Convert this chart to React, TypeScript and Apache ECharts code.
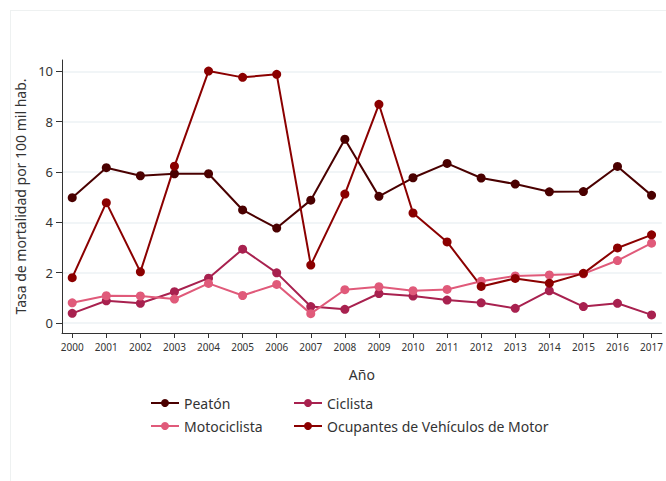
import React, { useEffect, useRef } from "react";
import * as echarts from "echarts";

const years = [2000, 2001, 2002, 2003, 2004, 2005, 2006, 2007, 2008, 2009, 2010, 2011, 2012, 2013, 2014, 2015, 2016, 2017];
const peaton = [4.98, 6.17, 5.85, 5.93, 5.93, 4.49, 3.77, 4.88, 7.3, 5.03, 5.77, 6.34, 5.76, 5.52, 5.21, 5.22, 6.22, 5.07];
const ciclista = [0.38, 0.88, 0.78, 1.24, 1.78, 2.93, 1.99, 0.65, 0.54, 1.17, 1.07, 0.91, 0.8, 0.58, 1.28, 0.65, 0.78, 0.32];
const motociclista = [0.8, 1.08, 1.07, 0.95, 1.57, 1.09, 1.53, 0.37, 1.32, 1.44, 1.28, 1.33, 1.66, 1.87, 1.91, 1.95, 2.48, 3.17];
const ocupantes = [1.8, 4.78, 2.03, 6.23, 10.01, 9.76, 9.88, 2.3, 5.12, 8.69, 4.37, 3.22, 1.45, 1.77, 1.58, 1.97, 2.98, 3.5];
const yTicks = [0, 2, 4, 6, 8, 10];

const seriesNames = ["Peatón", "Ciclista", "Motociclista", "Ocupantes de Vehículos de Motor"];
const seriesData = [peaton, ciclista, motociclista, ocupantes];
const colors = ["#4a0000", "#a8214f", "#e05a7a", "#8b0000"];

const FONT = "Noto Sans";

export default function App() {
  const ref = useRef<HTMLDivElement>(null);
  useEffect(() => {
    if (!ref.current) return;
    const chart = echarts.init(ref.current, undefined, { renderer: "svg" });
    const legendBase = {
      orient: "vertical",
      top: 396,
      padding: 0,
      itemWidth: 28,
      itemHeight: 10,
      itemGap: 9,
      textStyle: { fontFamily: FONT, fontSize: 14, color: "#333" },
    };
    chart.setOption({
      animation: false,
      textStyle: { fontFamily: FONT },
      grid: { left: 62, top: 60, right: 1, bottom: 148 },
      legend: [
        { ...legendBase, data: [seriesNames[0], seriesNames[2]], left: 150 },
        { ...legendBase, data: [seriesNames[1], seriesNames[3]], left: 293 },
      ],
      xAxis: {
        type: "value",
        min: 1999.7,
        max: 2017.3,
        name: "Año",
        nameLocation: "middle",
        nameGap: 34,
        nameTextStyle: { fontFamily: FONT, fontSize: 14, color: "#333" },
        axisLine: { show: true, onZero: false, lineStyle: { color: "#333", width: 1 } },
        axisTick: { show: true, length: 5, customValues: years, lineStyle: { color: "#333" } },
        axisLabel: {
          customValues: years,
          formatter: (v: number) => String(Math.round(v)),
          fontFamily: FONT,
          fontSize: 10,
          color: "#333",
          margin: 9,
        },
        splitLine: { show: false },
      },
      yAxis: {
        type: "value",
        min: -0.4,
        max: 10.45,
        name: "Tasa de mortalidad por 100 mil hab.",
        nameLocation: "middle",
        nameGap: 24,
        nameTextStyle: { fontFamily: FONT, fontSize: 14, color: "#333" },
        axisLine: { show: true, lineStyle: { color: "#333", width: 1 } },
        axisTick: { show: true, length: 6, customValues: yTicks, lineStyle: { color: "#333" } },
        axisLabel: {
          customValues: yTicks,
          fontFamily: FONT,
          fontSize: 13,
          color: "#333",
          margin: 9,
        },
        splitLine: { show: true, lineStyle: { color: "#edf2f4", width: 1.5 } },
      },
      series: seriesNames.map((name, i) => ({
        name,
        type: "line",
        data: years.map((y, j) => [y, seriesData[i][j]]),
        symbol: "circle",
        symbolSize: 9,
        color: colors[i],
        lineStyle: { width: 2, color: colors[i] },
        itemStyle: { color: colors[i] },
        emphasis: { disabled: true },
        clip: false,
      })),
    });
    return () => chart.dispose();
  }, []);
  return (
    <div style={{ position: "fixed", left: 0, top: 0, width: 666, height: 481, background: "#fff", overflow: "hidden" }}>
      <div style={{ position: "absolute", left: 10, top: 10, width: 700, height: 520, border: "1px solid #eef1f1", boxSizing: "border-box" }} />
      <div ref={ref} style={{ position: "absolute", left: 0, top: 0, width: 666, height: 481 }} />
    </div>
  );
}
